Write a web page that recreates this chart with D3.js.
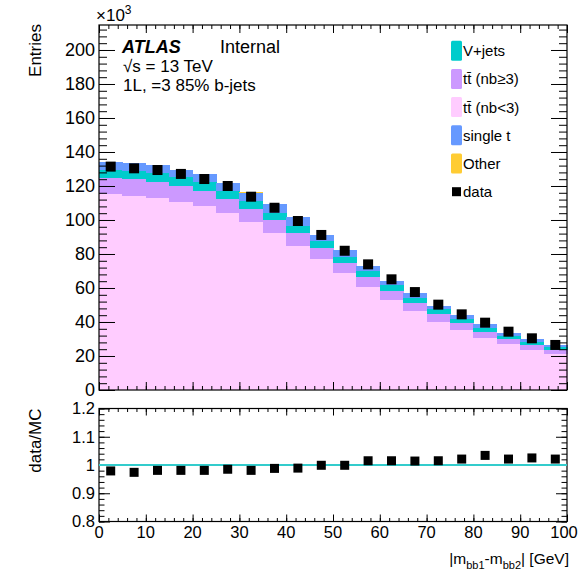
<!DOCTYPE html>
<html>
<head>
<meta charset="utf-8">
<script src="https://cdn.jsdelivr.net/npm/d3@7"></script>
<style>
  body { margin: 0; background: #fff; }
  svg { font-family: "Liberation Sans", Arial, sans-serif; }
  .frame { fill: none; stroke: #000; stroke-width: 1.2px; }
  .axis path { display: none; }
  .axis line { stroke: #000; }
</style>
</head>
<body>
<div id="chart"></div>
<script>
// bin edges of |m_bb1 - m_bb2| in GeV (5 GeV bins)
const binLow = [0, 5, 10, 15, 20, 25, 30, 35, 40, 45, 50, 55, 60, 65, 70, 75, 80, 85, 90, 95];
const binWidth = 5;

// stacked MC, in units of 10^3 entries (bottom to top)
const ttLight = [115.1, 114.3, 113.1, 110.8, 108.2, 103.9, 99.0, 92.5, 84.9, 76.9, 68.6, 60.8, 52.9, 46.5, 40.2, 35.3, 30.8, 26.9, 23.5, 21.0];
const ttHeavy = [9.4, 9.6, 9.3, 9.4, 9.1, 8.3, 7.3, 7.5, 7.3, 6.8, 6.3, 5.5, 5.3, 4.9, 4.3, 3.9, 3.5, 2.9, 3.0, 2.5];
const vJets   = [4.9, 4.9, 5.1, 4.9, 4.9, 4.9, 4.9, 4.3, 4.5, 3.9, 3.5, 3.7, 3.6, 2.9, 3.0, 2.4, 2.4, 2.1, 1.9, 1.6];
const singleT = [4.9, 4.9, 4.9, 4.5, 4.7, 4.5, 4.9, 4.9, 5.2, 3.6, 4.0, 2.9, 2.5, 2.6, 2.1, 2.5, 1.9, 1.8, 1.4, 1.4];
const other   = [0.1, 0.1, 0.1, 0.1, 0.1, 0.1, 0.1, 0.1, 0.1, 0.05, 0.05, 0.05, 0.05, 0.05, 0.05, 0.05, 0.05, 0.05, 0.05, 0.05];

const dataVals = [131.4, 130.4, 129.4, 127.1, 124.1, 120.0, 113.7, 107.2, 99.4, 91.2, 81.9, 73.9, 65.1, 57.6, 50.2, 44.5, 39.6, 34.3, 30.4, 26.5];
const ratioVals = [0.979, 0.974, 0.981, 0.981, 0.981, 0.985, 0.981, 0.988, 0.989, 0.999, 0.999, 1.015, 1.015, 1.014, 1.015, 1.021, 1.034, 1.021, 1.025, 1.021];

const yTicksMain = [0, 20, 40, 60, 80, 100, 120, 140, 160, 180, 200];
const yTicksRatio = [0.8, 0.9, 1.0, 1.1, 1.2];
const xTicks = [0, 10, 20, 30, 40, 50, 60, 70, 80, 90, 100];

const layers = [
  { key: "ttLight", vals: ttLight, color: "#ffccff", label: "t\u0074\u0304 (nb<3)" },
  { key: "ttHeavy", vals: ttHeavy, color: "#cc99ff", label: "t\u0074\u0304 (nb\u22653)" },
  { key: "vJets", vals: vJets, color: "#00cccc", label: "V+jets" },
  { key: "singleT", vals: singleT, color: "#6699ff", label: "single t" },
  { key: "other", vals: other, color: "#ffcc33", label: "Other" }
];
const legendOrder = ["vJets", "ttHeavy", "ttLight", "singleT", "other"];

const W = 579, H = 570;
const x0 = 99, x1 = 567;
const mainTop = 25, mainBot = 390;
const ratTop = 408.5, ratBot = 521.5;

const svg = d3.select("#chart").append("svg").attr("width", W).attr("height", H);

const x = d3.scaleLinear().domain([0, 100]).range([x0, x1]);
const y = d3.scaleLinear().domain([0, 214.7]).range([mainBot, mainTop]);
const yr = d3.scaleLinear().domain([0.8, 1.2]).range([ratBot, ratTop]);

// stack
const rows = binLow.map((b, i) => {
  const r = { low: b };
  layers.forEach(l => r[l.key] = l.vals[i]);
  return r;
});
const stacked = d3.stack().keys(layers.map(l => l.key))(rows);

const gStack = svg.append("g").attr("shape-rendering", "crispEdges");
stacked.forEach((s, li) => {
  gStack.selectAll(null)
    .data(s)
    .enter().append("rect")
    .attr("x", d => x(d.data.low))
    .attr("width", x(binWidth) - x(0) + 0.5)
    .attr("y", d => y(d[1]))
    .attr("height", d => y(d[0]) - y(d[1]))
    .attr("fill", layers[li].color);
});

// data points
const mk = 10;
svg.append("g").selectAll("rect")
  .data(dataVals)
  .enter().append("rect")
  .attr("x", (d, i) => x(binLow[i] + binWidth / 2) - mk / 2)
  .attr("y", d => y(d) - mk / 2)
  .attr("width", mk).attr("height", mk)
  .attr("fill", "#000");

// axis helper: ticks inside the frame
function ticks(g, axisFn, scale, vals, size) {
  g.append("g").attr("class", "axis")
    .call(axisFn(scale).tickValues(vals).tickSize(size).tickFormat(""));
}

function panel(top, bot, yScale, yMajor, yMinor, yLen, xLen) {
  const gl = svg.append("g").attr("transform", `translate(${x0},0)`);
  ticks(gl, d3.axisLeft, yScale, yMajor, -yLen);
  ticks(gl, d3.axisLeft, yScale, yMinor, -yLen / 2);
  const gr = svg.append("g").attr("transform", `translate(${x1},0)`);
  ticks(gr, d3.axisRight, yScale, yMajor, -yLen);
  ticks(gr, d3.axisRight, yScale, yMinor, -yLen / 2);
  const xMinor = d3.range(0, 100.01, 2);
  const gb = svg.append("g").attr("transform", `translate(0,${bot})`);
  ticks(gb, d3.axisBottom, x, xTicks, -xLen);
  ticks(gb, d3.axisBottom, x, xMinor, -xLen / 2);
  const gt = svg.append("g").attr("transform", `translate(0,${top})`);
  ticks(gt, d3.axisTop, x, xTicks, -xLen);
  ticks(gt, d3.axisTop, x, xMinor, -xLen / 2);
  svg.append("rect").attr("class", "frame")
    .attr("x", x0).attr("y", top).attr("width", x1 - x0).attr("height", bot - top);
}

panel(mainTop, mainBot, y, yTicksMain, d3.range(0, 214, 4), 16, 8);
panel(ratTop, ratBot, yr, yTicksRatio, d3.range(0.8, 1.2001, 0.02), 11, 7);

// y tick labels main
svg.append("g").selectAll("text")
  .data(yTicksMain).enter().append("text")
  .attr("x", x0 - 4).attr("y", d => y(d))
  .attr("dy", "0.36em").attr("text-anchor", "end")
  .attr("font-size", 18).text(d => d);

// y tick labels ratio
svg.append("g").selectAll("text")
  .data(yTicksRatio).enter().append("text")
  .attr("x", x0 - 4).attr("y", d => yr(d))
  .attr("dy", "0.36em").attr("text-anchor", "end")
  .attr("font-size", 16.5).text(d => d === 1 ? "1" : d3.format(".1f")(d));

// x tick labels (last one nudged so it stays on the page)
svg.append("g").selectAll("text")
  .data(xTicks).enter().append("text")
  .attr("x", d => x(d) - (d === 100 ? 3 : 0)).attr("y", ratBot + 16)
  .attr("text-anchor", "middle")
  .attr("font-size", 16.5).text(d => d);

// ratio reference line
svg.append("line")
  .attr("x1", x0).attr("x2", x1)
  .attr("y1", yr(1)).attr("y2", yr(1))
  .attr("stroke", "#33cccc").attr("stroke-width", 2);

// ratio points
svg.append("g").selectAll("rect")
  .data(ratioVals).enter().append("rect")
  .attr("x", (d, i) => x(binLow[i] + binWidth / 2) - 4.5)
  .attr("y", d => yr(d) - 4.5)
  .attr("width", 9).attr("height", 9)
  .attr("fill", "#000");

// axis titles
svg.append("text")
  .attr("transform", `translate(41,${mainTop - 1}) rotate(-90)`)
  .attr("text-anchor", "end").attr("font-size", 17).text("Entries");
svg.append("text")
  .attr("transform", `translate(41,${ratTop}) rotate(-90)`)
  .attr("text-anchor", "end").attr("font-size", 17).text("data/MC");

const xt = svg.append("text")
  .attr("x", x1 + 2).attr("y", 564)
  .attr("text-anchor", "end").attr("font-size", 15.5);
xt.append("tspan").text("|m");
xt.append("tspan").attr("font-size", 11).attr("dy", 5).text("bb1");
xt.append("tspan").attr("dy", -5).text("-m");
xt.append("tspan").attr("font-size", 11).attr("dy", 5).text("bb2");
xt.append("tspan").attr("dy", -5).text("| [GeV]");

// x10^3 multiplier
const mult = svg.append("text").attr("x", 96).attr("y", 21).attr("font-size", 17);
mult.append("tspan").text("\u00d710");
mult.append("tspan").attr("font-size", 12).attr("dy", -7).text("3");

// ATLAS label
svg.append("text").attr("x", 122).attr("y", 53)
  .attr("font-size", 18).attr("font-weight", "bold").attr("font-style", "italic")
  .text("ATLAS");
svg.append("text").attr("x", 220).attr("y", 53).attr("font-size", 18).text("Internal");
svg.append("text").attr("x", 123).attr("y", 72).attr("font-size", 17).text("\u221As = 13 TeV");
svg.append("text").attr("x", 123).attr("y", 91).attr("font-size", 17).text("1L, =3 85% b-jets");

// legend
const legY = d3.scaleLinear().domain([0, 5]).range([50.7, 191.7]);
const leg = svg.append("g");
legendOrder.forEach((k, i) => {
  const l = layers.find(v => v.key === k);
  leg.append("rect").attr("x", 451).attr("y", legY(i) - 10)
    .attr("width", 11).attr("height", 20).attr("rx", 1.5).attr("fill", l.color);
  leg.append("text").attr("x", 463).attr("y", legY(i))
    .attr("dy", "0.36em").attr("font-size", 15).text(l.label);
});
leg.append("rect").attr("x", 452).attr("y", legY(5) - 4.5)
  .attr("width", 9).attr("height", 9).attr("fill", "#000");
leg.append("text").attr("x", 463).attr("y", legY(5))
  .attr("dy", "0.36em").attr("font-size", 15).text("data");
</script>
</body>
</html>
